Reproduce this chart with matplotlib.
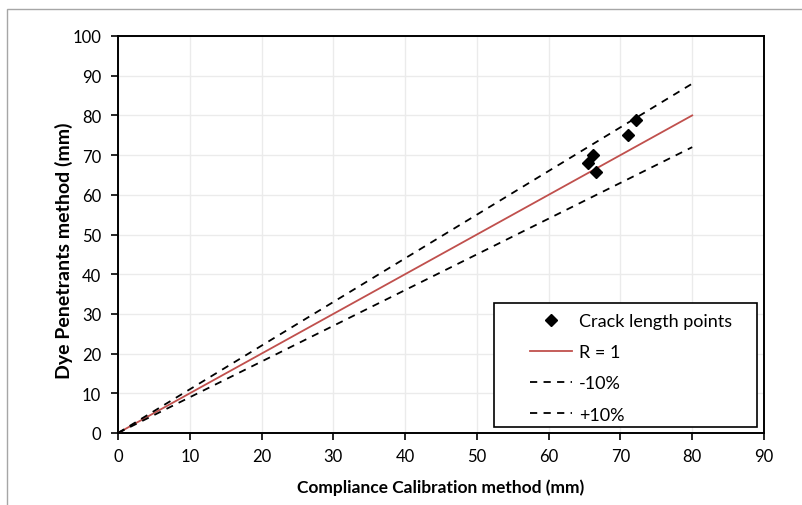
import matplotlib

matplotlib.use("Agg")
import matplotlib.pyplot as plt
from matplotlib.patches import Rectangle

# crack length measured by both methods (mm)
cc_method = [65.5, 66.2, 66.6, 71.1, 72.1]
dye_method = [68.0, 70.0, 65.8, 75.1, 78.8]

ref_x = [0, 80]
r1_y = [0, 80]
minus10_y = [0, 72]
plus10_y = [0, 88]

x_ticks = list(range(0, 91, 10))
y_ticks = list(range(0, 101, 10))

plt.rcParams["font.family"] = ["Lato", "DejaVu Sans"]

fig = plt.figure(figsize=(8.02, 5.06), dpi=100)
fig.patch.set_facecolor("#FFFFFF")
ax = fig.add_axes([118 / 802, 1 - 434 / 506, (764 - 118) / 802, (434 - 37) / 506])

ax.plot(cc_method, dye_method, ls="none", marker="D", ms=6.5, color="#000000",
        label="Crack length points", zorder=4)
ax.plot(ref_x, r1_y, color="#C0504D", lw=1.3, label="R = 1", zorder=3)
ax.plot(ref_x, minus10_y, color="#000000", lw=1.3, ls=(0, (4, 3.5)), label="-10%", zorder=3)
ax.plot(ref_x, plus10_y, color="#000000", lw=1.3, ls=(0, (4, 3.5)), label="+10%", zorder=3)

ax.set_xlim(0, 90)
ax.set_ylim(0, 100)
ax.set_xticks(x_ticks)
ax.set_yticks(y_ticks)
ax.grid(True, color="#EBEBEB", lw=1.0, zorder=0)
ax.set_axisbelow(True)
for spine in ax.spines.values():
    spine.set_color("#000000")
    spine.set_linewidth(1.4)
ax.tick_params(direction="out", length=5, width=1.2, colors="#000000", labelsize=12)
ax.tick_params(axis="x", pad=6)
ax.tick_params(axis="y", pad=7)

ax.set_xlabel("Compliance Calibration method (mm)", fontsize=12.5, fontweight="bold", labelpad=10)
ax.set_ylabel("Dye Penetrants method (mm)", fontsize=14, fontweight="bold")
ax.yaxis.set_label_coords(-0.07, 0.461)

# legend box drawn separately: Excel pads it more left/right than top/bottom
box = Rectangle((0.582, 0.0151), 0.407, 0.3123, transform=ax.transAxes,
                facecolor="#FFFFFF", edgecolor="#000000", lw=1.2, zorder=5)
ax.add_patch(box)
leg = ax.legend(loc="upper left", bbox_to_anchor=(0.6378, 0.302), fontsize=13, frameon=False,
                handlelength=2.35, labelspacing=0.84, borderpad=0, handletextpad=0.35,
                borderaxespad=0)
leg.set_zorder(6)

# outer chart border (cropped at right and bottom)
fig.patches.append(Rectangle((7 / 802, -0.1), 1.0, 1 - 10 / 506 + 0.1, transform=fig.transFigure,
                             fill=False, edgecolor="#A6A6A6", lw=1.0))

fig.savefig("out.png", dpi=100)
plt.close(fig)
